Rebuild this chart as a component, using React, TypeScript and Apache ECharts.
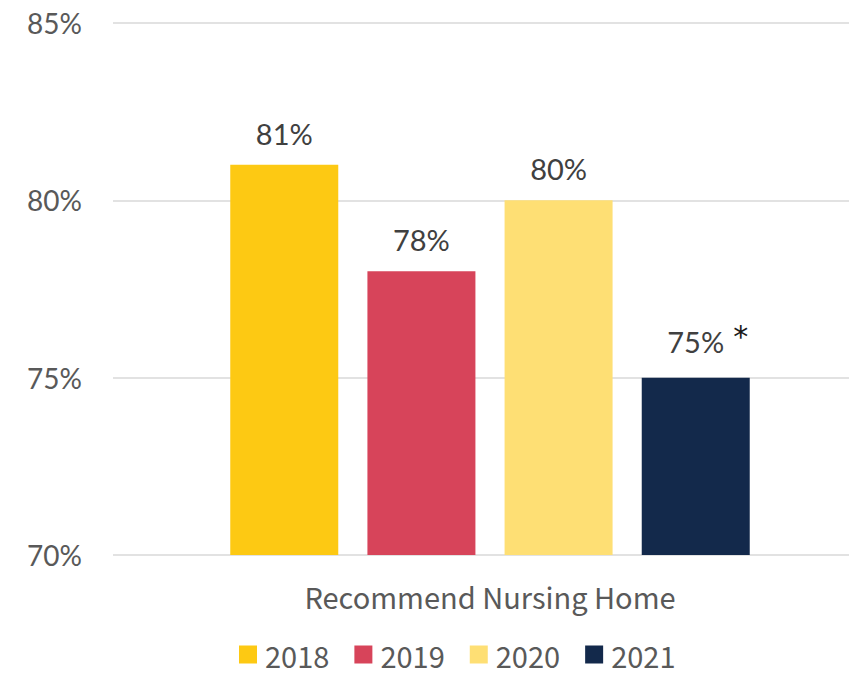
import React, { useEffect, useRef } from "react";
import * as echarts from "echarts";

const categories = ["Recommend Nursing Home"];
const years = ["2018", "2019", "2020", "2021"];
const values = [81, 78, 80, 75];
const notes = ["", "", "", "*"];
const colors = ["#FDC913", "#D7445A", "#FEDF74", "#13294B"];
const yTicks = { min: 70, max: 85, interval: 5 };

export default function App() {
  const ref = useRef<HTMLDivElement>(null);
  useEffect(() => {
    if (!ref.current) return;
    const chart = echarts.init(ref.current, null, { renderer: "svg" });
    const series = years.map((y, i) => ({
      name: y,
      type: "bar",
      data: [values[i]],
      barWidth: 108,
      barGap: "27%",
      itemStyle: { color: colors[i] },
      label: {
        show: true,
        position: "top",
        distance: 17,
        formatter: notes[i]
          ? "{pad|}{v|{c}%}{s|" + notes[i] + "}"
          : "{v|{c}%}",
        rich: {
          v: { fontFamily: "Lato", fontSize: 29, color: "#404040" },
          pad: { width: 24 },
          s: {
            width: 24,
            align: "right",
            fontFamily: "DejaVu Sans",
            fontSize: 30,
            color: "#1a1a1a",
            padding: [0, 0, 9, 0],
          },
        },
      },
    }));
    chart.setOption({
      animation: false,
      grid: { left: 113, top: 23, width: 754, bottom: 119, outerBoundsMode: "none" },
      legend: {
        data: years,
        left: 234,
        top: 635,
        icon: "rect",
        itemWidth: 18,
        itemHeight: 18,
        itemGap: 25,
        textStyle: {
          fontFamily: "Noto Sans CJK SC",
          fontSize: 29,
          color: "#595959",
          padding: [0, 0, 0, 3],
        },
      },
      xAxis: {
        type: "category",
        data: categories,
        axisLine: { show: false },
        axisTick: { show: false },
        axisLabel: {
          fontFamily: "Noto Sans CJK SC",
          fontSize: 29,
          color: "#595959",
          margin: 26,
        },
      },
      yAxis: {
        type: "value",
        min: yTicks.min,
        max: yTicks.max,
        interval: yTicks.interval,
        axisLine: { show: false },
        axisTick: { show: false },
        axisLabel: {
          formatter: "{value}%",
          fontFamily: "Lato",
          fontSize: 28,
          color: "#595959",
          margin: 31,
        },
        splitLine: { lineStyle: { color: "#d9d9d9", width: 1.5 } },
      },
      series,
    });
    return () => chart.dispose();
  }, []);
  return (
    <div
      ref={ref}
      style={{ position: "absolute", left: 0, top: 0, width: 849, height: 674 }}
    />
  );
}
